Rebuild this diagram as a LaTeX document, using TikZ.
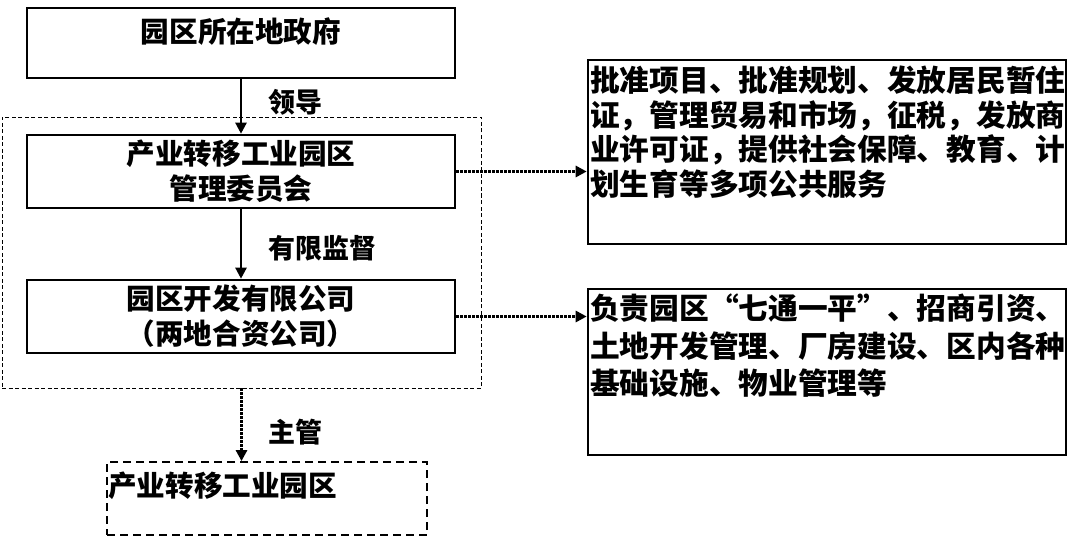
\documentclass[tikz,border=0pt]{standalone}
\usepackage{fontspec}
\setmainfont{Noto Sans CJK SC}
\usetikzlibrary{arrows.meta,positioning}
\begin{document}
\begin{tikzpicture}[x=1pt,y=-1pt,
  box/.style={draw,line width=2.6pt,rectangle,inner sep=0pt},
  solidarr/.style={line width=2.4pt,-{Triangle[length=11pt,width=11pt]}},
  dotarr/.style={line width=2.8pt,dash pattern=on 2.4pt off 1.6pt,-{Triangle[length=11pt,width=11pt]}},
  lbl/.style={font=\fontsize{27}{30}\selectfont\bfseries,inner sep=0pt,anchor=west},
  txt/.style={font=\fontsize{28.6}{35}\selectfont\bfseries,inner sep=0pt},
  rtxt/.style={font=\fontsize{29.7}{34.5}\selectfont\bfseries,inner sep=0pt,align=left,anchor=north west}
]
\useasboundingbox (0,0) rectangle (1086,537);
% container
\node[draw,line width=0.9pt,dash pattern=on 4pt off 2.5pt,minimum width=479pt,minimum height=271pt,inner sep=0pt] (cont) at (241.5,252.5) {};
% boxes
\node[box,minimum width=428pt,minimum height=70pt] (gov) at (241,43) {};
\node[txt] (govt) at (241,32) {园区所在地政府};
\node[box,minimum width=428pt,minimum height=73pt,align=center,txt] (com) at (241,171.5) {产业转移工业园区\\管理委员会};
\node[box,minimum width=428pt,minimum height=73pt,align=center,txt] (dev) at (241,316.5) {\raisebox{-4pt}{园区开发有限公司}\\\raisebox{-4pt}{（两地合资公司）}};
\node[draw,line width=1.8pt,dash pattern=on 8pt off 5pt,minimum width=320pt,minimum height=73pt,inner sep=0pt] (park) at (267,498.5) {};
\node[txt,anchor=west] (parkt) at (108,486) {产业转移工业园区};
\node[box,minimum width=478pt,minimum height=184pt] (rb1) at (827,152) {};
\node[rtxt] (rb1t) at (590,66) {批准项目、批准规划、发放居民暂住\\证，管理贸易和市场，征税，发放商\\业许可证，提供社会保障、教育、计\\划生育等多项公共服务};
\node[box,minimum width=478pt,minimum height=166pt] (rb2) at (827,372) {};
\node[rtxt,font=\fontsize{29.7}{37.5}\selectfont\bfseries] (rb2t) at (590,294) {负责园区“七通一平”、招商引资、\\土地开发管理、厂房建设、区内各种\\基础设施、物业管理等};
% arrows
\draw[solidarr] (gov.south) -- (com.north);
\draw[solidarr] (com.south) -- (dev.north);
\coordinate (pt) at (cont.south |- park.north);
\draw[dotarr] (cont.south) -- (pt);
\draw[dotarr] (com.east) -- (rb1.west |- com.east);
\draw[dotarr] (dev.east) -- (rb2.west |- dev.east);
% labels
\node[lbl] (l1) at (268,102) {领导};
\node[lbl] (l2) at (268,248) {有限监督};
\node[lbl] (l3) at (268,432) {主管};
\end{tikzpicture}
\end{document}
